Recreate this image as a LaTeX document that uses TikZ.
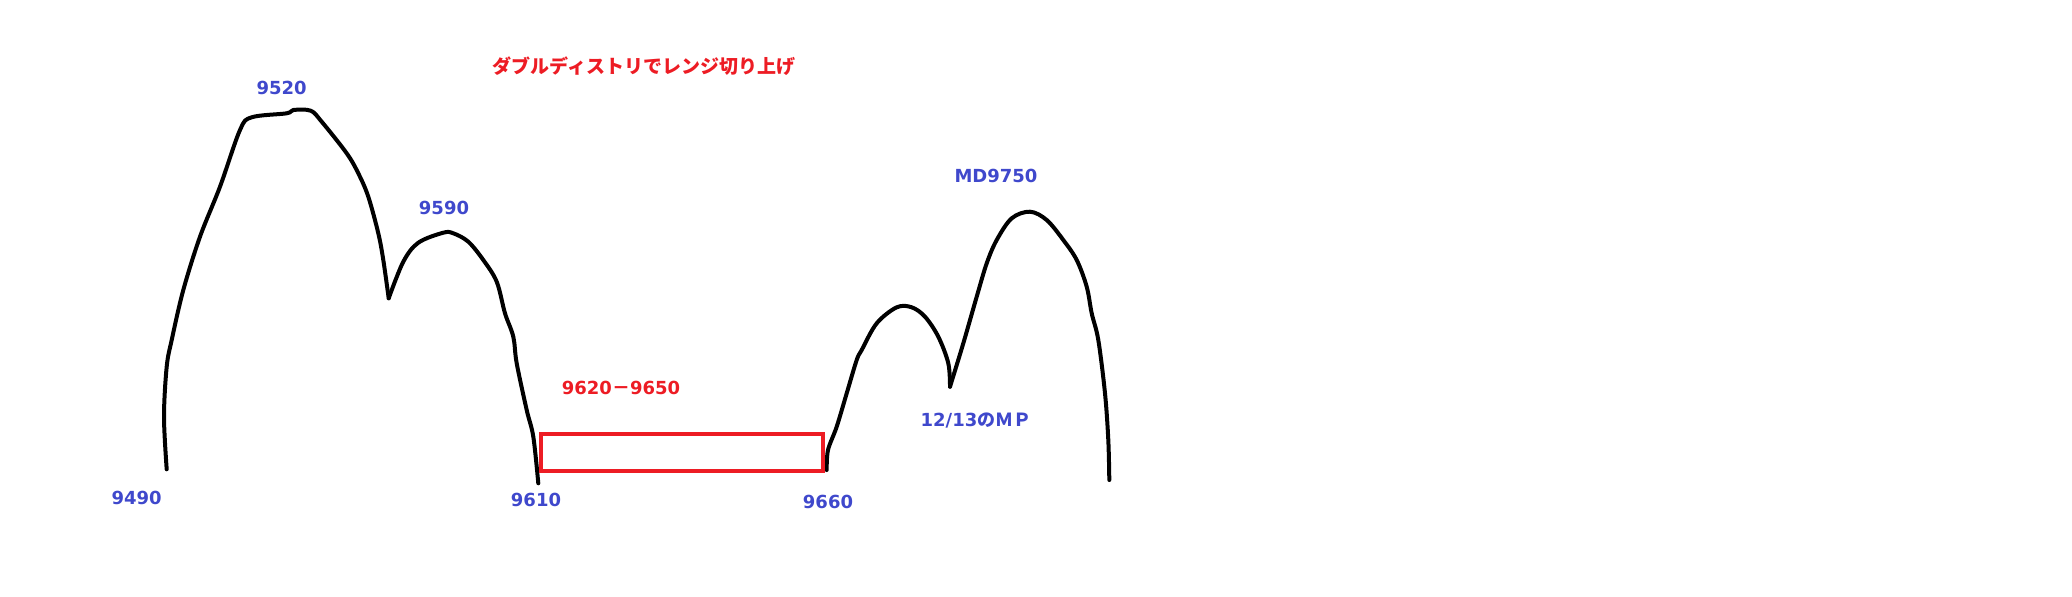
\documentclass[tikz,border=0pt]{standalone}
\usepackage{fontspec}
\setmainfont{DejaVu Sans}
\newfontfamily\jp{Noto Sans CJK JP}
\definecolor{lblue}{RGB}{63,72,204}
\definecolor{lred}{RGB}{237,28,36}
\begin{document}
\begin{tikzpicture}[x=0.5pt,y=-0.5pt,
  curve/.style={line width=2pt,line cap=round,line join=round},
  num/.style={text=lblue,font=\fontsize{9}{10}\selectfont\bfseries,inner sep=0pt},
  rnum/.style={text=lred,font=\fontsize{9}{10}\selectfont\bfseries,inner sep=0pt},
  jtitle/.style={text=lred,font=\jp\fontsize{9.5}{10}\selectfont\bfseries,inner sep=0pt},
  rangebox/.style={draw=lred,line width=2pt,minimum width=140.8pt,minimum height=18.8pt,inner sep=0pt}]
\useasboundingbox (0,0) rectangle (2072,596);
% left curve
\draw[curve] plot[smooth,tension=0.55] coordinates {(166.7,469.3) (164,416.7) (166.7,366.7) (171.7,340) (183.3,290) (200,236.7) (220,186.7) (240,130) (251.7,117.3) (286.7,113.3) (293.3,110) (310.7,110.7) (321.7,121.7) (346.7,153.3) (358.3,173.3) (368.3,196.7) (378.3,233.3) (383.3,260) (388.7,298.3)};
\draw[curve] plot[smooth,tension=0.55] coordinates {(388.7,298.3) (403.3,261.7) (418.3,242.7) (443.3,232.7) (453.3,233.3) (468.3,241.7) (483.3,260) (496.7,281.7) (505,313.3) (513.3,336.7) (516.7,363.3) (526.7,410) (533.3,436.7) (538.3,483.3)};
% right curve
\draw[curve] plot[smooth,tension=0.55] coordinates {(826.7,470) (828,450) (836.7,426.7) (846.7,393.3) (856.7,360) (861.7,350) (876.7,323.3) (896.7,307.3) (911.7,307.3) (925,316.7) (938.3,336.7) (948.3,363.3) (950,386.7)};
\draw[curve] plot[smooth,tension=0.55] coordinates {(950,386.7) (963.3,343.3) (976.7,296.7) (986.7,263.3) (996.7,240) (1011.7,218.3) (1030,211.7) (1046.7,220) (1063.3,240) (1076.7,260) (1086.7,286.7) (1091.7,313.3) (1098.3,340) (1105,393.3) (1108.3,440) (1109.3,480)};
% range box
\node[rangebox] (box) at (682,452.5) {};
% labels
\node[jtitle] (title) at (644,66) {ダブルディストリでレンジ切り上げ};
\node[num] (l9490) at (136.7,497.5) {9490};
\node[num] (l9520) at (281.7,88) {9520};
\node[num] (l9590) at (444,208) {9590};
\node[num] (l9610) at (536,500) {9610};
\node[num] (l9660) at (828,501.7) {9660};
\node[rnum] (lrange) at (621,388) {9620{\jp －}9650};
\node[num] (lmd) at (996,176) {MD9750};
\node[num] (lmp) at (976,420.5) {12/13{\jp のＭＰ}};
\end{tikzpicture}
\end{document}
